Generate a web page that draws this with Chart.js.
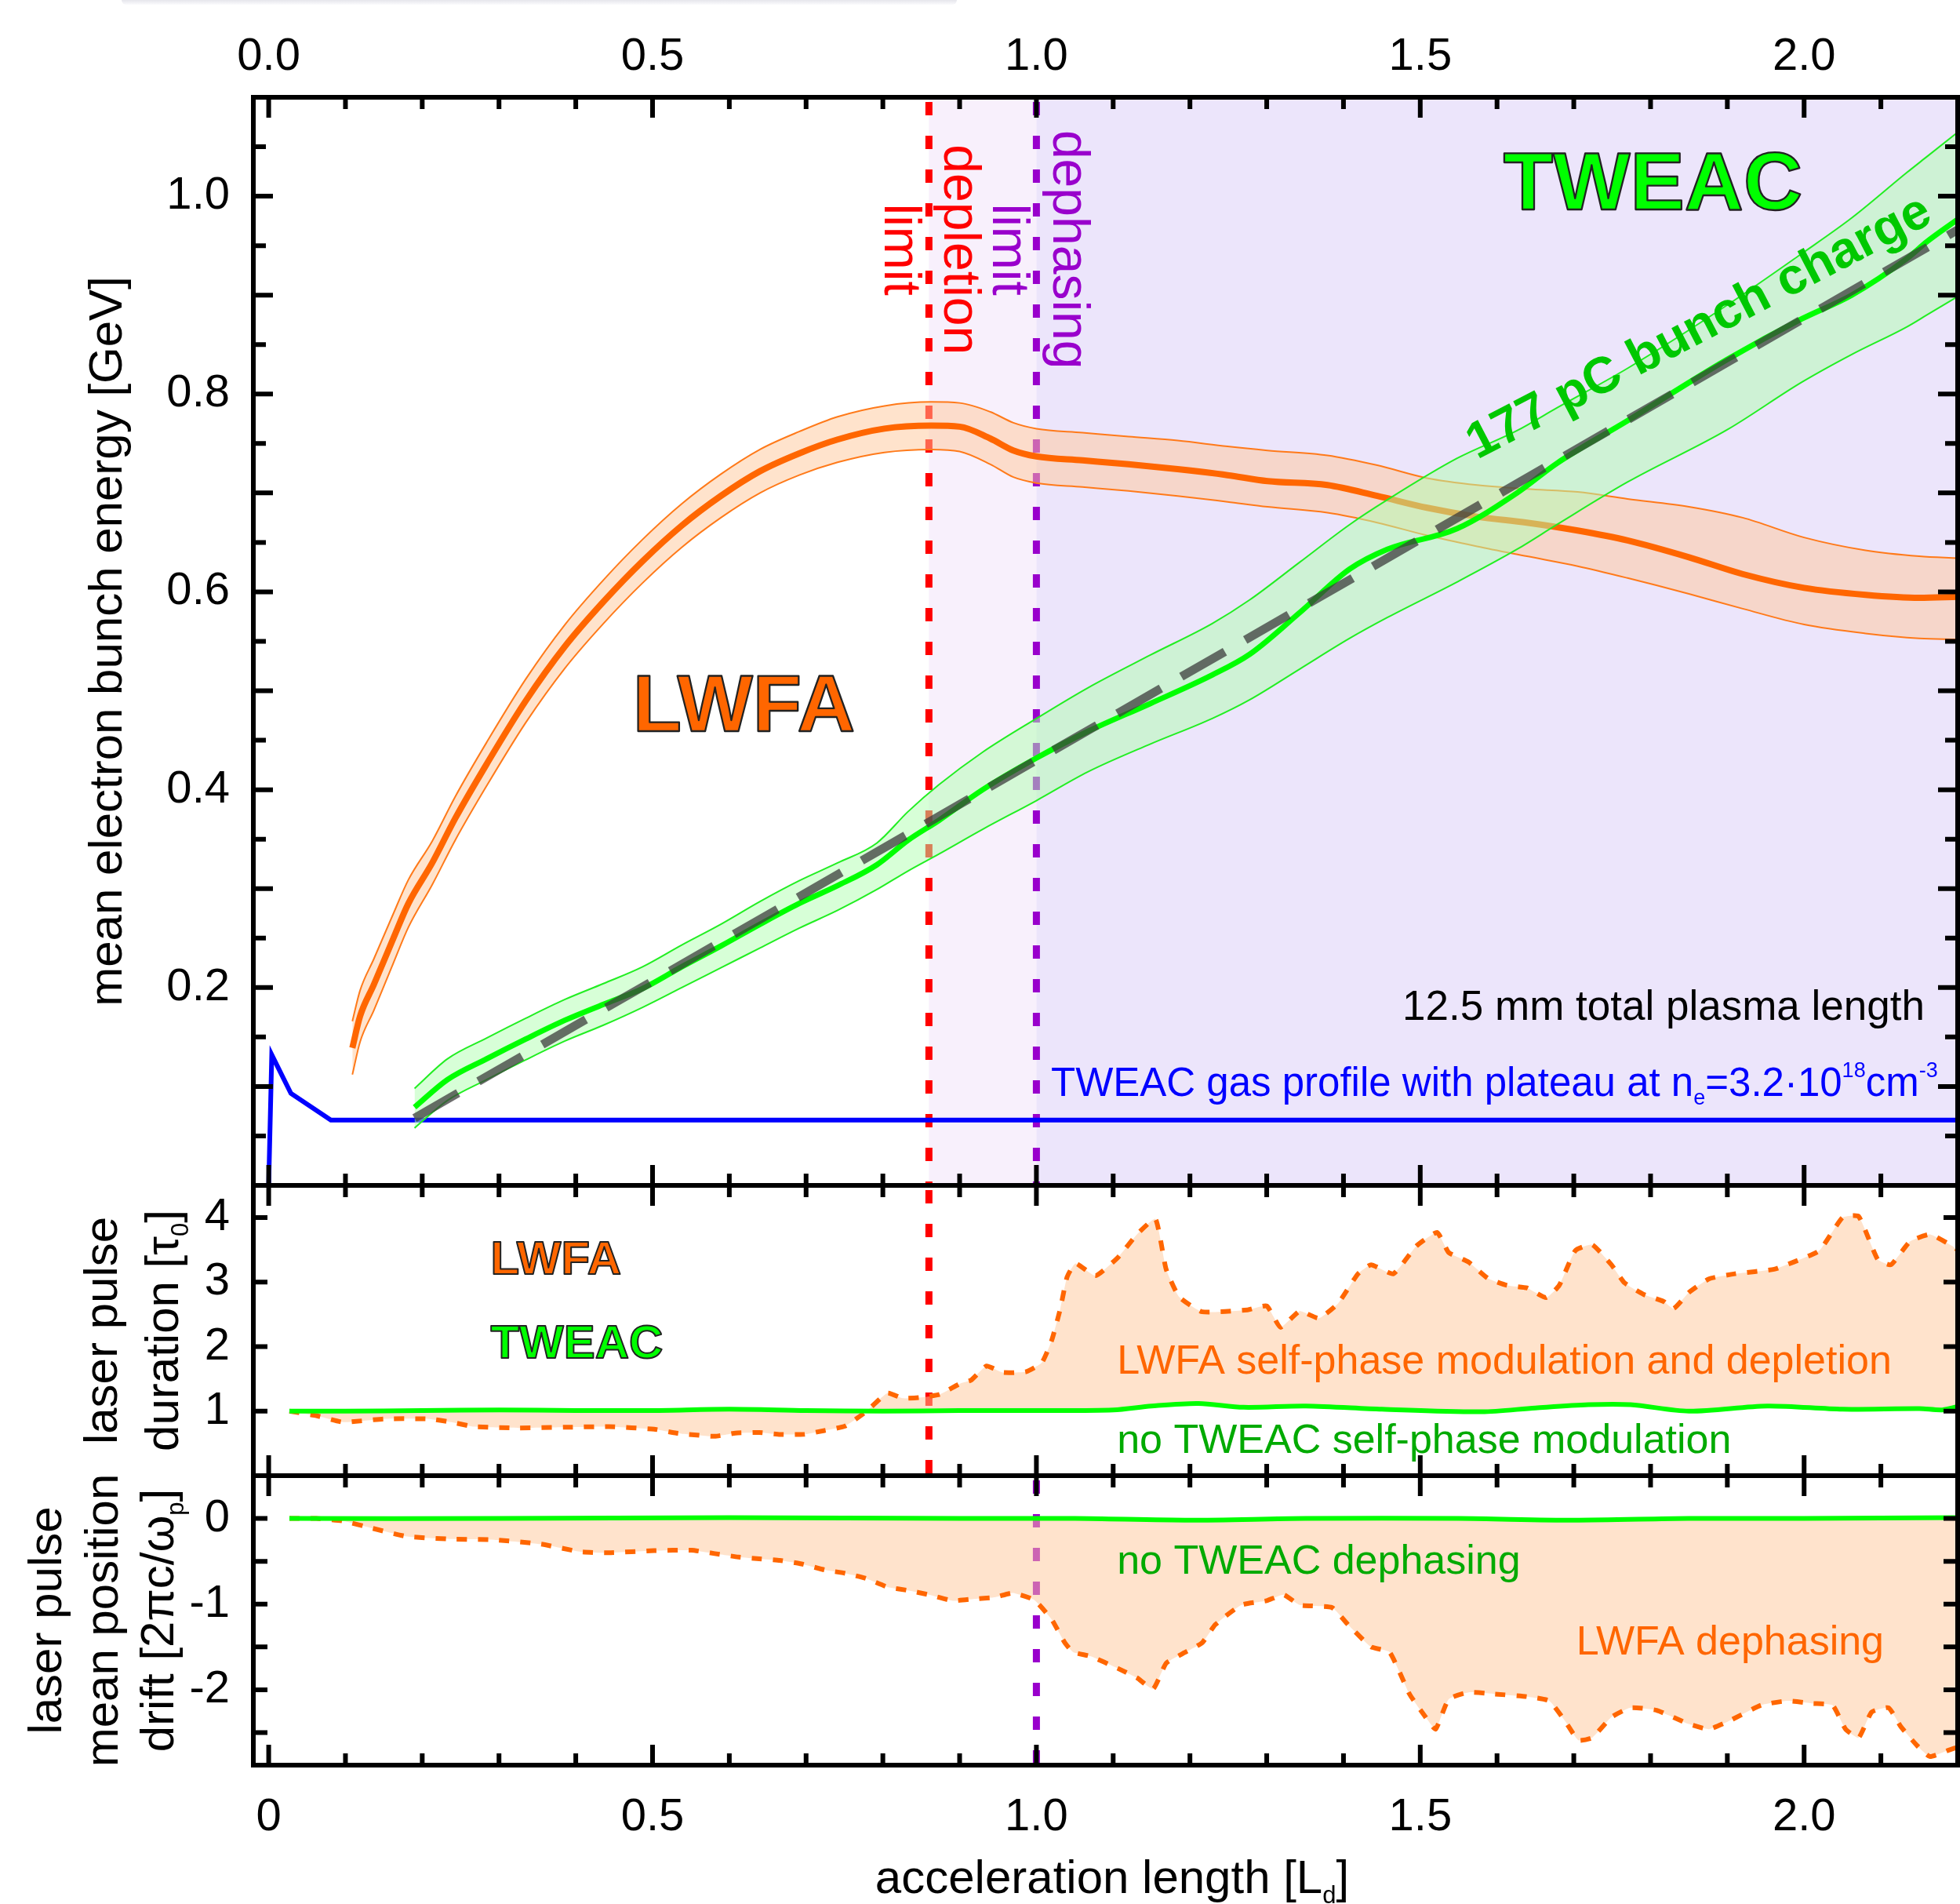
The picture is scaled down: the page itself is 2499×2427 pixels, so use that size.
<!DOCTYPE html>
<html>
<head>
<meta charset="utf-8">
<script src="https://cdn.jsdelivr.net/npm/chart.js@4.4.1/dist/chart.umd.min.js"></script>
<style>
  html, body { margin: 0; padding: 0; background: #fff; }
  #wrap { position: relative; width: 2499px; height: 2427px; overflow: hidden; background: #fff; }
  #wrap canvas { position: absolute; left: 0; top: 0; }
  #shade { position: absolute; left: 155px; top: 0; width: 1065px; height: 6px;
           border-radius: 0 0 8px 8px; background: linear-gradient(#e6e6ec, #fbfbfd); }
</style>
</head>
<body>
<div id="wrap">
  <div id="shade"></div>
  <canvas id="energyChart" width="2499" height="2427"></canvas>
  <canvas id="durationChart" width="2499" height="2427"></canvas>
  <canvas id="driftChart" width="2499" height="2427"></canvas>
</div>
<script>
const FONT = "'Liberation Sans', Arial, Helvetica, sans-serif";

// acceleration length [L_d]
const xMin = -0.02, xMax = 2.2;
const xLabelTicks = [0, 0.5, 1.0, 1.5, 2.0];
const xMinorTicks = [0.1, 0.2, 0.3, 0.4, 0.6, 0.7, 0.8, 0.9, 1.1, 1.2, 1.3, 1.4, 1.6, 1.7, 1.8, 1.9, 2.1];

const depletionLimit = 0.86;
const dephasingLimit = 1.0;

// top panel: mean electron bunch energy [GeV]
const energyTicks = [0.2, 0.4, 0.6, 0.8, 1.0];
const energyMajor = [0.1, 0.2, 0.3, 0.4, 0.5, 0.6, 0.7, 0.8, 0.9, 1.0];
const energyMinor = [0.05, 0.15, 0.25, 0.35, 0.45, 0.55, 0.65, 0.75, 0.85, 0.95, 1.05];

const lwfaX = [0.109, 0.119, 0.137, 0.162, 0.182, 0.213, 0.243, 0.284, 0.335, 0.386, 0.436, 0.487, 0.538, 0.589, 0.640, 0.691, 0.741, 0.802, 0.863, 0.90, 0.94, 0.97, 1.00, 1.06, 1.12, 1.184, 1.249, 1.301, 1.379, 1.444, 1.509, 1.574, 1.639, 1.705, 1.770, 1.85, 1.92, 2.00, 2.08, 2.15, 2.20];
const lwfaE = [0.139, 0.171, 0.203, 0.249, 0.285, 0.326, 0.371, 0.426, 0.490, 0.545, 0.590, 0.631, 0.667, 0.697, 0.722, 0.740, 0.754, 0.765, 0.768, 0.767, 0.755, 0.743, 0.737, 0.733, 0.729, 0.724, 0.718, 0.712, 0.708, 0.697, 0.685, 0.676, 0.670, 0.662, 0.652, 0.635, 0.618, 0.604, 0.597, 0.594, 0.595];
const lwfaEHigh = [0.166, 0.197, 0.229, 0.274, 0.309, 0.348, 0.393, 0.448, 0.512, 0.567, 0.612, 0.653, 0.689, 0.719, 0.744, 0.762, 0.777, 0.788, 0.792, 0.791, 0.782, 0.771, 0.765, 0.761, 0.757, 0.753, 0.747, 0.743, 0.738, 0.728, 0.715, 0.708, 0.704, 0.701, 0.694, 0.686, 0.675, 0.655, 0.642, 0.636, 0.634];
const lwfaELow = [0.112, 0.145, 0.177, 0.224, 0.261, 0.304, 0.349, 0.404, 0.468, 0.523, 0.568, 0.609, 0.645, 0.675, 0.700, 0.718, 0.731, 0.741, 0.744, 0.742, 0.729, 0.716, 0.710, 0.706, 0.702, 0.697, 0.691, 0.686, 0.680, 0.670, 0.657, 0.646, 0.636, 0.626, 0.614, 0.598, 0.583, 0.567, 0.558, 0.553, 0.552];

const tweacX = [0.19, 0.233, 0.284, 0.335, 0.386, 0.436, 0.487, 0.538, 0.589, 0.640, 0.691, 0.741, 0.792, 0.833, 0.873, 0.93, 1.0, 1.067, 1.148, 1.229, 1.278, 1.343, 1.408, 1.457, 1.548, 1.626, 1.678, 1.770, 1.900, 1.997, 2.062, 2.134, 2.160, 2.199];
const tweacE = [0.079, 0.107, 0.128, 0.148, 0.167, 0.183, 0.199, 0.221, 0.242, 0.264, 0.285, 0.303, 0.324, 0.349, 0.369, 0.400, 0.432, 0.459, 0.487, 0.516, 0.537, 0.579, 0.623, 0.643, 0.664, 0.700, 0.730, 0.773, 0.835, 0.876, 0.900, 0.937, 0.954, 0.976];
const tweacEHigh = [0.098, 0.128, 0.149, 0.169, 0.188, 0.204, 0.221, 0.243, 0.264, 0.287, 0.308, 0.326, 0.346, 0.378, 0.405, 0.438, 0.472, 0.503, 0.536, 0.568, 0.592, 0.630, 0.668, 0.693, 0.735, 0.763, 0.786, 0.826, 0.890, 0.942, 0.978, 1.024, 1.040, 1.064];
const tweacELow = [0.058, 0.086, 0.107, 0.127, 0.146, 0.162, 0.180, 0.200, 0.220, 0.240, 0.260, 0.278, 0.299, 0.318, 0.335, 0.360, 0.389, 0.418, 0.446, 0.472, 0.491, 0.522, 0.553, 0.574, 0.610, 0.643, 0.668, 0.711, 0.764, 0.812, 0.840, 0.868, 0.880, 0.898];

// linear fit through the TWEAC energy gain
const fitX = [0.19, 2.2];
const fitE = [0.068, 0.966];

// gas profile (arbitrary units, drawn on the energy axis)
const gasX = [0, 0.004, 0.029, 0.081, 2.2];
const gasY = [0, 0.132, 0.093, 0.066, 0.066];

// middle panel: laser pulse duration [tau_0]
const durTicks = [1, 2, 3, 4];
const lwfaDurX = [0.027, 0.062, 0.097, 0.15, 0.209, 0.238, 0.267, 0.326, 0.385, 0.443,
  0.502, 0.531, 0.547, 0.581, 0.608, 0.639, 0.666, 0.697, 0.724, 0.751,
  0.778, 0.806, 0.826, 0.847, 0.874, 0.901, 0.915, 0.935, 0.956, 0.986,
  1.007, 1.020, 1.031, 1.040, 1.051, 1.077, 1.106, 1.131, 1.155, 1.169,
  1.186, 1.216, 1.275, 1.300, 1.318, 1.343, 1.368, 1.393, 1.419, 1.436,
  1.465, 1.495, 1.522, 1.537, 1.563, 1.588, 1.613, 1.639, 1.664, 1.681,
  1.702, 1.724, 1.749, 1.766, 1.791, 1.817, 1.830, 1.850, 1.876, 1.910,
  1.961, 1.986, 2.020, 2.050, 2.071, 2.096, 2.113, 2.138, 2.164, 2.193, 2.200];
const lwfaDur = [1.0, 0.93, 0.83, 0.88, 0.88, 0.83, 0.76, 0.74, 0.75, 0.76,
  0.72, 0.66, 0.64, 0.61, 0.66, 0.67, 0.64, 0.64, 0.70, 0.77,
  0.99, 1.28, 1.20, 1.21, 1.26, 1.43, 1.48, 1.70, 1.60, 1.61,
  1.75, 2.10, 2.58, 3.08, 3.29, 3.10, 3.38, 3.74, 3.98, 3.20,
  2.77, 2.54, 2.57, 2.63, 2.30, 2.55, 2.44, 2.67, 3.13, 3.27,
  3.13, 3.56, 3.77, 3.46, 3.31, 3.06, 2.95, 2.91, 2.76, 2.95,
  3.49, 3.58, 3.27, 2.99, 2.81, 2.70, 2.59, 2.84, 3.05, 3.13,
  3.20, 3.31, 3.49, 4.00, 4.02, 3.35, 3.27, 3.63, 3.74, 3.56, 3.50];
const tweacDurX = [0.027, 0.1, 0.2, 0.3, 0.4, 0.5, 0.6, 0.7, 0.8, 0.9, 1.0, 1.1, 1.15, 1.211, 1.27, 1.351, 1.45, 1.58, 1.65, 1.719, 1.774, 1.85, 1.952, 2.05, 2.15, 2.18, 2.2];
const tweacDur = [1.0, 1.0, 1.01, 1.02, 1.01, 1.01, 1.03, 1.01, 1.0, 1.01, 1.01, 1.02, 1.08, 1.12, 1.06, 1.08, 1.03, 0.99, 1.05, 1.10, 1.10, 1.0, 1.08, 1.03, 1.04, 1.02, 1.07];

// bottom panel: laser pulse mean position drift [2 pi c / omega_p]
const driftTicks = [0, -1, -2];
const driftMinor = [0, -0.5, -1, -1.5, -2, -2.5];
const lwfaDriftX = [0.027, 0.062, 0.097, 0.133, 0.18, 0.238, 0.296, 0.355, 0.407, 0.443,
  0.502, 0.551, 0.581, 0.612, 0.639, 0.666, 0.694, 0.724, 0.751, 0.778,
  0.806, 0.833, 0.86, 0.891, 0.918, 0.946, 0.969, 0.997, 1.02, 1.037,
  1.048, 1.071, 1.106, 1.131, 1.152, 1.169, 1.19, 1.216, 1.233, 1.267,
  1.30, 1.322, 1.343, 1.385, 1.406, 1.436, 1.46, 1.486, 1.507, 1.52,
  1.537, 1.563, 1.597, 1.639, 1.668, 1.689, 1.706, 1.724, 1.749, 1.774,
  1.808, 1.85, 1.876, 1.901, 1.944, 1.978, 2.011, 2.037, 2.054, 2.071,
  2.088, 2.11, 2.126, 2.147, 2.164, 2.19, 2.2];
const lwfaDrift = [0, 0, -0.03, -0.11, -0.21, -0.24, -0.25, -0.30, -0.39, -0.40,
  -0.375, -0.37, -0.41, -0.45, -0.47, -0.49, -0.53, -0.60, -0.64, -0.70,
  -0.80, -0.84, -0.89, -0.96, -0.94, -0.92, -0.87, -0.95, -1.18, -1.45,
  -1.56, -1.61, -1.75, -1.86, -1.99, -1.69, -1.58, -1.45, -1.24, -1.01,
  -0.96, -0.89, -1.01, -1.04, -1.24, -1.50, -1.56, -2.05, -2.32, -2.46,
  -2.11, -2.03, -2.05, -2.08, -2.13, -2.37, -2.59, -2.56, -2.32, -2.21,
  -2.24, -2.40, -2.46, -2.37, -2.18, -2.13, -2.16, -2.18, -2.46, -2.56,
  -2.26, -2.21, -2.43, -2.65, -2.78, -2.70, -2.67];
const tweacDriftX = [0.027, 0.3, 0.6, 0.9, 1.05, 1.2, 1.35, 1.55, 1.7, 1.85, 2.0, 2.2];
const tweacDrift = [0, 0, 0.01, 0, 0, -0.02, 0, 0, -0.02, 0, 0, 0.01];

const ORANGE = '#FF6600';
const GREEN = '#00FF00';
const FILL_ORANGE = 'rgba(255,200,153,0.5)';
const FILL_GREEN = 'rgba(175,255,175,0.5)';

function pts(xs, ys) {
  return xs.map((x, i) => ({ x: x, y: ys[i] }));
}

function lineSet(xs, ys, color, width, extra) {
  return Object.assign({
    data: pts(xs, ys),
    borderColor: color,
    borderWidth: width,
    pointRadius: 0,
    fill: false,
    tension: 0
  }, extra || {});
}

// smooth curves for the energy panel
function smoothSet(xs, ys, color, width, extra) {
  return lineSet(xs, ys, color, width, Object.assign({ cubicInterpolationMode: 'monotone' }, extra || {}));
}

function xAxis(position, showLabels, height, fmt) {
  return {
    type: 'linear', position: position, min: xMin, max: xMax,
    grid: { display: false }, border: { display: false },
    afterBuildTicks: s => { s.ticks = xLabelTicks.map(v => ({ value: v })); },
    afterFit: s => { s.height = height; },
    ticks: {
      display: showLabels, autoSkip: false, maxRotation: 0, minRotation: 0,
      padding: position === 'top' ? 8 : 24,
      font: { family: FONT, size: 58 }, color: '#000',
      callback: fmt
    }
  };
}

function yAxis(min, max, tickVals, fmt) {
  return {
    type: 'linear', position: 'left', min: min, max: max,
    grid: { display: false, drawTicks: false }, border: { display: false },
    afterBuildTicks: s => { s.ticks = tickVals.map(v => ({ value: v })); },
    afterFit: s => { s.width = 323; },
    ticks: {
      autoSkip: false, padding: 30,
      font: { family: FONT, size: 58 }, color: '#000',
      callback: fmt
    }
  };
}

// text with sub- and superscripts: parts = [[text, 0 | 1 (sup) | -1 (sub)], ...]
function drawRich(ctx, parts, x, y, size, align, weight) {
  const w = weight || 'normal';
  const fontOf = p => w + ' ' + (p[1] === 0 ? size : Math.round(size * 0.52)) + 'px ' + FONT;
  const widths = parts.map(p => { ctx.font = fontOf(p); return ctx.measureText(p[0]).width; });
  const total = widths.reduce((a, b) => a + b, 0);
  let cx = align === 'center' ? x - total / 2 : (align === 'right' ? x - total : x);
  ctx.textAlign = 'left';
  ctx.textBaseline = 'alphabetic';
  parts.forEach((p, i) => {
    ctx.font = fontOf(p);
    const dy = p[1] === 1 ? -0.48 * size : (p[1] === -1 ? 0.21 * size : 0);
    ctx.fillText(p[0], cx, y + dy);
    cx += widths[i];
  });
}

function text(ctx, str, x, y, size, color, align, angle, weight) {
  ctx.save();
  ctx.translate(x, y);
  if (angle) ctx.rotate(angle);
  ctx.fillStyle = color;
  drawRich(ctx, typeof str === 'string' ? [[str, 0]] : str, 0, 0, size, align, weight);
  ctx.restore();
}

function outlined(ctx, str, x, y, size, color, align) {
  ctx.save();
  ctx.font = 'bold ' + size + 'px ' + FONT;
  ctx.textAlign = align;
  ctx.textBaseline = 'alphabetic';
  ctx.fillStyle = color;
  ctx.fillText(str, x, y);
  ctx.lineWidth = Math.max(2, size / 45);
  ctx.strokeStyle = '#222';
  ctx.lineJoin = 'round';
  ctx.strokeText(str, x, y);
  ctx.restore();
}

// frame, inward ticks, shaded regions, limit lines and labels of one panel
function decor(cfg) {
  return {
    id: 'decor_' + cfg.name,
    beforeDatasetsDraw(chart) {
      const ctx = chart.ctx, a = chart.chartArea, xs = chart.scales.x;
      ctx.save();
      (cfg.regions || []).forEach(r => {
        const x0 = xs.getPixelForValue(r.from), x1 = xs.getPixelForValue(r.to);
        ctx.fillStyle = r.color;
        ctx.fillRect(x0, a.top, x1 - x0, a.bottom - a.top);
      });
      (cfg.limits || []).forEach(l => {
        const px = xs.getPixelForValue(l.x);
        ctx.strokeStyle = l.color;
        ctx.lineWidth = 9;
        ctx.setLineDash([17, 26]);
        ctx.beginPath();
        ctx.moveTo(px, a.top + 6);
        ctx.lineTo(px, a.bottom);
        ctx.stroke();
      });
      ctx.restore();
    },
    afterDatasetsDraw(chart) {
      if (cfg.labels) cfg.labels(chart);
    },
    afterDraw(chart) {
      const ctx = chart.ctx, a = chart.chartArea;
      const xs = chart.scales.x, ys = chart.scales.y;
      ctx.save();
      ctx.strokeStyle = '#000';
      ctx.lineWidth = 6;
      ctx.setLineDash([]);
      ctx.beginPath();
      const tick = (x0, y0, x1, y1) => { ctx.moveTo(x0, y0); ctx.lineTo(x1, y1); };
      xLabelTicks.forEach(v => {
        const p = xs.getPixelForValue(v);
        tick(p, a.top, p, a.top + 26);
        tick(p, a.bottom, p, a.bottom - 26);
      });
      xMinorTicks.forEach(v => {
        const p = xs.getPixelForValue(v);
        tick(p, a.top, p, a.top + 15);
        tick(p, a.bottom, p, a.bottom - 15);
      });
      cfg.yMajor.forEach(v => {
        const p = ys.getPixelForValue(v);
        tick(a.left, p, a.left + cfg.yMajorLen, p);
        tick(a.right, p, a.right - cfg.yMajorLen, p);
      });
      (cfg.yMinor || []).forEach(v => {
        const p = ys.getPixelForValue(v);
        tick(a.left, p, a.left + cfg.yMinorLen, p);
        tick(a.right, p, a.right - cfg.yMinorLen, p);
      });
      ctx.stroke();
      ctx.strokeRect(a.left, a.top, a.right - a.left, a.bottom - a.top);
      ctx.restore();
    }
  };
}

function baseOptions(pad, xCfg, yCfg) {
  return {
    responsive: false,
    devicePixelRatio: 1,
    animation: false,
    events: [],
    layout: { padding: pad },
    plugins: { legend: { display: false }, tooltip: { enabled: false } },
    scales: { x: xCfg, y: yCfg }
  };
}

// ---------- top panel ----------
function energyLabels(chart) {
  const ctx = chart.ctx, xs = chart.scales.x, ys = chart.scales.y;
  const X = v => xs.getPixelForValue(v), Y = v => ys.getPixelForValue(v);
  const area = chart.chartArea;

  outlined(ctx, 'TWEAC', X(1.803), Y(0.9865), 104, GREEN, 'center');
  outlined(ctx, 'LWFA', X(0.619), Y(0.459), 102, ORANGE, 'center');

  text(ctx, '177 pC bunch charge', X(1.872), Y(0.8715) + 22, 65, '#00C800', 'center', -27.5 * Math.PI / 180, 'bold');

  const midY = Y(0.946);
  text(ctx, 'depletion', X(depletionLimit) + 20, midY, 66, '#FF0000', 'center', Math.PI / 2);
  text(ctx, 'limit', X(depletionLimit) - 56, midY, 66, '#FF0000', 'center', Math.PI / 2);
  text(ctx, 'dephasing', X(dephasingLimit) + 22, midY, 66, '#9900CC', 'center', Math.PI / 2);
  text(ctx, 'limit', X(dephasingLimit) - 55, midY, 66, '#9900CC', 'center', Math.PI / 2);

  text(ctx, '12.5 mm total plasma length', X(2.157), Y(0.1673), 53, '#000', 'right');
  text(ctx, [['TWEAC gas profile with plateau at n', 0], ['e', -1], ['=3.2\u00b710', 0], ['18', 1], ['cm', 0], ['-3', 1]],
    X(1.019), Y(0.0904), 51, '#0000FF', 'left');

  text(ctx, 'mean electron bunch energy [GeV]', 155, (area.top + area.bottom) / 2, 60, '#000', 'center', -Math.PI / 2);
}

new Chart(document.getElementById('energyChart'), {
  type: 'line',
  data: {
    datasets: [
      lineSet(gasX, gasY, '#0000FF', 6, { order: 9 }),
      smoothSet(lwfaX, lwfaEHigh, '#FF7A1A', 2, { order: 8, fill: 2, backgroundColor: FILL_ORANGE }),
      smoothSet(lwfaX, lwfaELow, '#FF7A1A', 2, { order: 7 }),
      smoothSet(lwfaX, lwfaE, ORANGE, 8, { order: 6 }),
      smoothSet(tweacX, tweacEHigh, '#22EE22', 2, { order: 5, fill: 5, backgroundColor: FILL_GREEN }),
      smoothSet(tweacX, tweacELow, '#22EE22', 2, { order: 4 }),
      smoothSet(tweacX, tweacE, GREEN, 7, { order: 3 }),
      lineSet(fitX, fitE, 'rgba(60,60,60,0.75)', 11, { order: 2, borderDash: [64, 30] })
    ]
  },
  options: baseOptions({ left: 0, right: 3, top: 0, bottom: 916 },
    xAxis('top', true, 124, v => v.toFixed(1)),
    yAxis(0, 1.1, energyTicks, v => v.toFixed(1))),
  plugins: [decor({
    name: 'energy',
    regions: [
      { from: depletionLimit, to: dephasingLimit, color: '#F8F0FC' },
      { from: dephasingLimit, to: xMax, color: '#ECE5FB' }
    ],
    limits: [
      { x: depletionLimit, color: '#FF0000' },
      { x: dephasingLimit, color: '#9900CC' }
    ],
    yMajor: energyMajor, yMajorLen: 25,
    yMinor: energyMinor, yMinorLen: 16,
    labels: energyLabels
  })]
});

// ---------- middle panel ----------
function durationLabels(chart) {
  const ctx = chart.ctx, xs = chart.scales.x, ys = chart.scales.y;
  const X = v => xs.getPixelForValue(v), Y = v => ys.getPixelForValue(v);
  const area = chart.chartArea;
  outlined(ctx, 'LWFA', X(0.289), Y(3.125), 60, ORANGE, 'left');
  outlined(ctx, 'TWEAC', X(0.289), Y(1.824), 60, GREEN, 'left');
  text(ctx, 'LWFA self-phase modulation and depletion', X(1.105), Y(1.58), 52, ORANGE, 'left');
  text(ctx, 'no TWEAC self-phase modulation', X(1.105), Y(0.355), 52, '#00AA00', 'left');

  const cy = (area.top + area.bottom) / 2;
  text(ctx, 'laser pulse', 149, cy, 60, '#000', 'center', -Math.PI / 2);
  text(ctx, [['duration [\u03c4', 0], ['0', -1], [']', 0]], 227, cy, 60, '#000', 'center', -Math.PI / 2);
}

new Chart(document.getElementById('durationChart'), {
  type: 'line',
  data: {
    datasets: [
      lineSet(lwfaDurX, lwfaDur, ORANGE, 6, { order: 2, fill: 1, backgroundColor: FILL_ORANGE, borderDash: [13, 14], tension: 0.15 }),
      lineSet(tweacDurX, tweacDur, GREEN, 6, { order: 1, tension: 0.3 })
    ]
  },
  options: baseOptions({ left: 0, right: 3, top: 1511, bottom: 546 },
    xAxis('bottom', false, 0, v => v),
    yAxis(0, 4.5, durTicks, v => String(v))),
  plugins: [decor({
    name: 'duration',
    limits: [{ x: depletionLimit, color: '#FF0000' }],
    yMajor: durTicks, yMajorLen: 18,
    labels: durationLabels
  })]
});

// ---------- bottom panel ----------
function driftLabels(chart) {
  const ctx = chart.ctx, xs = chart.scales.x, ys = chart.scales.y;
  const X = v => xs.getPixelForValue(v), Y = v => ys.getPixelForValue(v);
  const area = chart.chartArea;
  text(ctx, 'no TWEAC dephasing', X(1.105), Y(-0.645), 52, '#00AA00', 'left');
  text(ctx, 'LWFA dephasing', X(2.104), Y(-1.588), 52, ORANGE, 'right');

  const cy = (area.top + area.bottom) / 2;
  text(ctx, 'laser pulse', 78, cy, 60, '#000', 'center', -Math.PI / 2);
  text(ctx, 'mean position', 150, cy, 60, '#000', 'center', -Math.PI / 2);
  text(ctx, [['drift [2\u03c0c/\u03c9', 0], ['p', -1], [']', 0]], 221, cy, 60, '#000', 'center', -Math.PI / 2);

  text(ctx, [['acceleration length [L', 0], ['d', -1], [']', 0]], 1418, 2413, 60, '#000', 'center');
}

new Chart(document.getElementById('driftChart'), {
  type: 'line',
  data: {
    datasets: [
      lineSet(lwfaDriftX, lwfaDrift, ORANGE, 6, { order: 2, fill: 1, backgroundColor: FILL_ORANGE, borderDash: [13, 14], tension: 0.15 }),
      lineSet(tweacDriftX, tweacDrift, GREEN, 6, { order: 1, tension: 0.3 })
    ]
  },
  options: baseOptions({ left: 0, right: 3, top: 1881, bottom: 0 },
    xAxis('bottom', true, 177, v => (v === 0 ? '0' : v.toFixed(1))),
    yAxis(-2.88, 0.5, driftTicks, v => String(v))),
  plugins: [decor({
    name: 'drift',
    limits: [{ x: dephasingLimit, color: '#9900CC' }],
    yMajor: driftMinor, yMajorLen: 18,
    labels: driftLabels
  })]
});
</script>
</body>
</html>
